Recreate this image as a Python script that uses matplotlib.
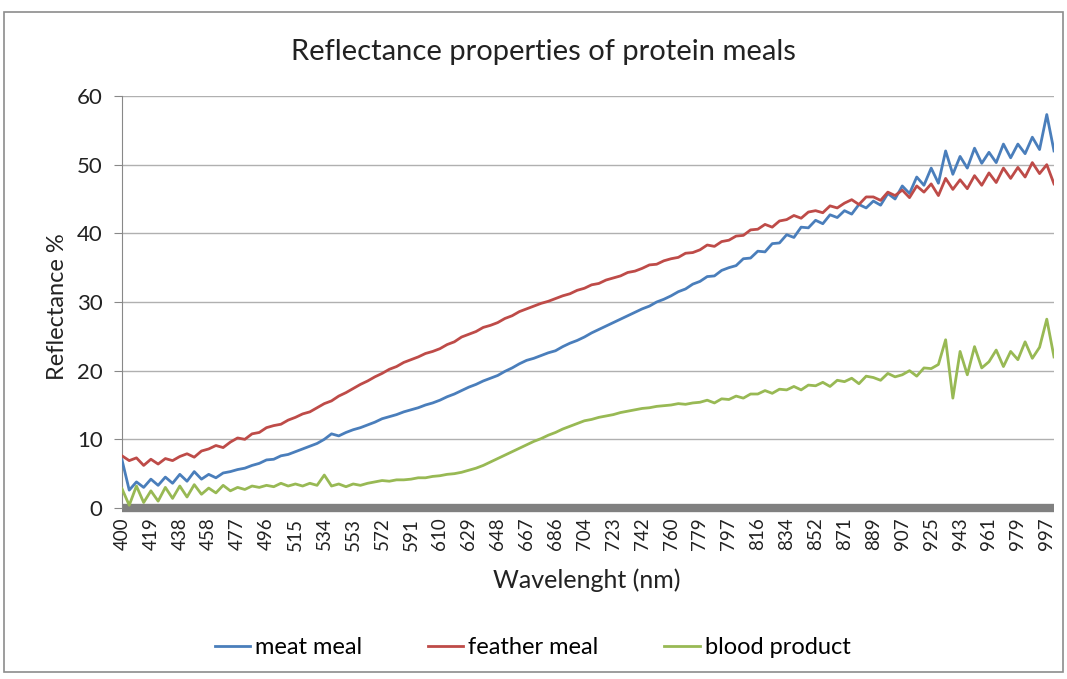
import numpy as np
import matplotlib.pyplot as plt
from matplotlib.patches import Rectangle

plt.rcParams['font.family'] = ['Lato', 'DejaVu Sans']

wl_labels = [400, 419, 438, 458, 477, 496, 515, 534, 553, 572, 591, 610, 629,
             648, 667, 686, 704, 723, 742, 760, 779, 797, 816, 834, 852, 871,
             889, 907, 925, 943, 961, 979, 997]

# readings at 4 samples per labelled category step
meat_meal = [7.0, 2.6, 3.8, 3.0, 4.2, 3.3, 4.5, 3.6, 4.9, 3.9, 5.3, 4.2,
             4.9, 4.4, 5.1, 5.3, 5.6, 5.8, 6.2, 6.5, 7.0, 7.1, 7.6, 7.8,
             8.2, 8.6, 9.0, 9.4, 10.0, 10.8, 10.5, 11.0, 11.4, 11.7, 12.1, 12.5,
             13.0, 13.3, 13.6, 14.0, 14.3, 14.6, 15.0, 15.3, 15.7, 16.2, 16.6, 17.1,
             17.6, 18.0, 18.5, 18.9, 19.3, 19.9, 20.4, 21.0, 21.5, 21.8, 22.2, 22.6,
             22.9, 23.5, 24.0, 24.4, 24.9, 25.5, 26.0, 26.5, 27.0, 27.5, 28.0, 28.5,
             29.0, 29.4, 30.0, 30.4, 30.9, 31.5, 31.9, 32.6, 33.0, 33.7, 33.8, 34.6,
             35.0, 35.3, 36.3, 36.4, 37.4, 37.3, 38.5, 38.6, 39.8, 39.4, 40.9, 40.8,
             41.9, 41.4, 42.7, 42.3, 43.3, 42.8, 44.2, 43.7, 44.7, 44.1, 45.8, 45.0,
             46.9, 45.8, 48.2, 47.0, 49.5, 47.3, 52.0, 48.6, 51.2, 49.5, 52.4, 50.2,
             51.8, 50.3, 53.0, 51.0, 53.0, 51.6, 54.0, 52.2, 57.3, 52.0]

feather_meal = [7.6, 6.9, 7.3, 6.2, 7.1, 6.4, 7.2, 6.9, 7.5, 7.9, 7.4, 8.3,
                8.6, 9.1, 8.8, 9.6, 10.2, 10.0, 10.8, 11.0, 11.7, 12.0, 12.2, 12.8,
                13.2, 13.7, 14.0, 14.6, 15.2, 15.6, 16.3, 16.8, 17.4, 18.0, 18.5, 19.1,
                19.6, 20.2, 20.6, 21.2, 21.6, 22.0, 22.5, 22.8, 23.2, 23.8, 24.2, 24.9,
                25.3, 25.7, 26.3, 26.6, 27.0, 27.6, 28.0, 28.6, 29.0, 29.4, 29.8, 30.1,
                30.5, 30.9, 31.2, 31.7, 32.0, 32.5, 32.7, 33.2, 33.5, 33.8, 34.3, 34.5,
                34.9, 35.4, 35.5, 36.0, 36.3, 36.5, 37.1, 37.2, 37.6, 38.3, 38.1, 38.8,
                39.0, 39.6, 39.7, 40.5, 40.6, 41.3, 40.9, 41.8, 42.0, 42.6, 42.2, 43.1,
                43.3, 43.0, 44.0, 43.7, 44.4, 44.9, 44.2, 45.3, 45.3, 44.8, 46.0, 45.5,
                46.3, 45.2, 46.9, 46.0, 47.2, 45.5, 48.0, 46.4, 47.8, 46.5, 48.4, 47.0,
                48.8, 47.4, 49.5, 48.0, 49.6, 48.2, 50.3, 48.7, 50.0, 47.2]

blood_product = [2.8, 0.4, 3.2, 0.8, 2.5, 1.0, 3.0, 1.4, 3.2, 1.6, 3.4, 2.0,
                 2.9, 2.2, 3.3, 2.5, 3.0, 2.7, 3.2, 3.0, 3.3, 3.1, 3.6, 3.2,
                 3.5, 3.2, 3.6, 3.3, 4.8, 3.2, 3.5, 3.1, 3.5, 3.3, 3.6, 3.8,
                 4.0, 3.9, 4.1, 4.1, 4.2, 4.4, 4.4, 4.6, 4.7, 4.9, 5.0, 5.2,
                 5.5, 5.8, 6.2, 6.7, 7.2, 7.7, 8.2, 8.7, 9.2, 9.7, 10.1, 10.6,
                 11.0, 11.5, 11.9, 12.3, 12.7, 12.9, 13.2, 13.4, 13.6, 13.9, 14.1, 14.3,
                 14.5, 14.6, 14.8, 14.9, 15.0, 15.2, 15.1, 15.3, 15.4, 15.7, 15.3, 15.9,
                 15.8, 16.3, 16.0, 16.6, 16.6, 17.1, 16.7, 17.3, 17.2, 17.7, 17.2, 17.9,
                 17.8, 18.3, 17.7, 18.6, 18.4, 18.9, 18.1, 19.2, 19.0, 18.6, 19.6, 19.1,
                 19.4, 20.0, 19.2, 20.4, 20.3, 20.9, 24.5, 16.0, 22.8, 19.4, 23.5, 20.4,
                 21.3, 23.0, 20.6, 22.8, 21.6, 24.2, 21.8, 23.4, 27.5, 22.0]

series = [("meat meal", meat_meal, "#4a7ebb"),
          ("feather meal", feather_meal, "#be4b48"),
          ("blood product", blood_product, "#98b954")]

fig = plt.figure(figsize=(10.67, 6.79), dpi=100)
ax = fig.add_axes([122/1067, 171/679, 932/1067, 412/679])

for name, vals, col in series:
    x = np.arange(len(vals)) / 4
    ax.plot(x, vals, color=col, lw=2.0, label=name, zorder=3)

ax.axhline(0, color="#808080", lw=6, solid_capstyle="butt", zorder=2, clip_on=False)

ax.set_xlim(0, 32.25)
ax.set_ylim(0, 60)
ax.set_yticks(range(0, 61, 10))
ax.set_xticks(range(len(wl_labels)))
ax.set_xticklabels(wl_labels, rotation=90, fontsize=13.5, color="#222222")
ax.tick_params(axis="x", length=0, pad=7)
ax.tick_params(axis="y", length=6, color="#888888", labelsize=16, labelcolor="#222222", pad=8)
ax.grid(axis="y", color="#b0b0b0", lw=1)
ax.set_axisbelow(True)
for s in ["top", "right", "bottom"]:
    ax.spines[s].set_visible(False)
ax.spines["left"].set_color("#888888")

fig.text(0.509, 0.923, "Reflectance properties of protein meals", ha="center", va="center",
         fontsize=21, color="#222222")
fig.text(0.054, 0.548, "Reflectance %", rotation=90, ha="center", va="center",
         fontsize=17, color="#222222")
fig.text(0.550, 0.146, "Wavelenght (nm)", ha="center", va="center", fontsize=18, color="#222222")

fig.legend(loc="center", bbox_to_anchor=(0.499, 0.046), ncol=3, frameon=False, fontsize=17,
           handlelength=1.5, handletextpad=0.2, columnspacing=2.8)

fig.patches.append(Rectangle((4/1067, 7/679), 1059/1067, 660/679, transform=fig.transFigure,
                             fill=False, edgecolor="#8c8c8c", lw=1.2))

fig.savefig("out.png", dpi=100)
